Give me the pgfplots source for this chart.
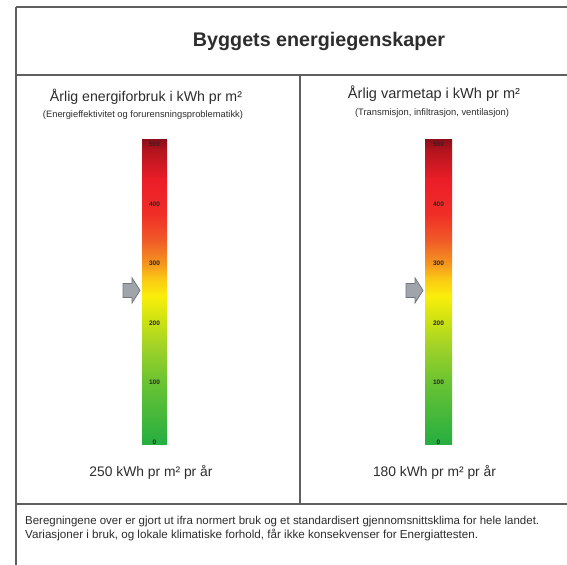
\documentclass[border=0pt]{standalone}
\usepackage{pgfplots}
\pgfplotsset{compat=1.18}
\usepackage{fontspec}
\setmainfont{Liberation Sans}
\usepackage{graphicx}

\definecolor{e0}{RGB}{40,175,65}
\definecolor{e1}{RGB}{105,195,50}
\definecolor{e2}{RGB}{160,210,40}
\definecolor{e3}{RGB}{200,225,20}
\definecolor{e4}{RGB}{250,238,10}
\definecolor{e5}{RGB}{250,200,20}
\definecolor{e6}{RGB}{245,150,30}
\definecolor{e7}{RGB}{240,90,40}
\definecolor{e8}{RGB}{240,45,40}
\definecolor{e9}{RGB}{235,30,40}
\definecolor{e10}{RGB}{180,20,30}
\definecolor{e11}{RGB}{140,15,25}
\definecolor{framecol}{RGB}{95,95,95}
\definecolor{txt}{RGB}{45,45,45}
\definecolor{arrowfill}{RGB}{160,165,172}
\definecolor{arrowdraw}{RGB}{115,118,125}

\pgfdeclareverticalshading{energy}{100bp}{%
 color(0bp)=(e0); color(25bp)=(e0); color(25.5bp)=(e0);
 color(35.2bp)=(e1); color(41.1bp)=(e2); color(45bp)=(e3);
 color(49.4bp)=(e4); color(52.3bp)=(e5); color(54.7bp)=(e6);
 color(58.6bp)=(e7); color(63bp)=(e8); color(68.4bp)=(e9);
 color(73.3bp)=(e10); color(75bp)=(e11); color(100bp)=(e11)}

\pgfdeclareplotmark{barrow}{%
 \pgfpathmoveto{\pgfqpoint{-17bp}{-7bp}}%
 \pgfpathlineto{\pgfqpoint{-8bp}{-7bp}}%
 \pgfpathlineto{\pgfqpoint{-8bp}{-12.5bp}}%
 \pgfpathlineto{\pgfqpoint{0bp}{0bp}}%
 \pgfpathlineto{\pgfqpoint{-8bp}{12.5bp}}%
 \pgfpathlineto{\pgfqpoint{-8bp}{7bp}}%
 \pgfpathlineto{\pgfqpoint{-17bp}{7bp}}%
 \pgfpathclose
 \pgfusepathqfillstroke}

\pgfplotsset{
 energybar/.style={
  scale only axis, height=305bp,
  xmin=0, xmax=1, ymin=-5, ymax=508,
  axis on top,
  axis line style={draw=none},
  xtick=\empty,
  ytick={0,100,200,300,400,500},
  major tick length=0pt,
  /pgf/number format/assume math mode=true,
  yticklabel style={anchor=center, font=\fontsize{6.5bp}{7bp}\selectfont\bfseries, text=black!85, inner sep=0pt},
  clip=false,
 }
}

\begin{document}
\begin{tikzpicture}[x=1bp,y=1bp]
\path[use as bounding box] (0,0) rectangle (567,565);
\fill[white] (0,0) rectangle (567,565);

% frame
\begin{scope}[line width=1.8bp, draw=framecol]
\draw (16,558) -- (567,558);
\draw (16,558) -- (16,0);
\draw (16,490) -- (567,490);
\draw (300,490) -- (300,61);
\draw (16,61) -- (567,61);
\end{scope}

% texts
\begin{scope}[text=txt]
\node[anchor=base, inner sep=0pt] at (319,518) {\resizebox{252bp}{!}{\bfseries Byggets energiegenskaper}};
\node[anchor=base, inner sep=0pt] at (146,463) {\resizebox{192bp}{!}{Årlig energiforbruk i kWh pr m²}};
\node[anchor=base, inner sep=0pt] at (143,447) {\resizebox{200bp}{!}{(Energieffektivitet og forurensningsproblematikk)}};
\node[anchor=base, inner sep=0pt] at (434,466) {\resizebox{172bp}{!}{Årlig varmetap i kWh pr m²}};
\node[anchor=base, inner sep=0pt] at (432,449) {\resizebox{154bp}{!}{(Transmisjon, infiltrasjon, ventilasjon)}};
\node[anchor=base, inner sep=0pt] at (151,88) {\resizebox{123bp}{!}{250 kWh pr m² pr år}};
\node[anchor=base, inner sep=0pt] at (434.5,88) {\resizebox{123bp}{!}{180 kWh pr m² pr år}};
\node[anchor=base west, inner sep=0pt] at (25,40) {\resizebox{514bp}{!}{Beregningene over er gjort ut ifra normert bruk og et standardisert gjennomsnittsklima for hele landet.}};
\node[anchor=base west, inner sep=0pt] at (25,26) {\resizebox{453bp}{!}{Variasjoner i bruk, og lokale klimatiske forhold, får ikke konsekvenser for Energiattesten.}};
\end{scope}

% left bar
\begin{axis}[energybar, at={(142bp,120bp)}, anchor=south west, width=25bp,
  yticklabel style={xshift=12.5bp}]
\addplot[draw=none, shade, shading=energy] coordinates {(0,-5) (1,-5) (1,508) (0,508)} -- cycle;
\addplot[only marks, mark=barrow, mark options={fill=arrowfill, draw=arrowdraw, line width=0.8bp}] coordinates {(-0.08,255)};
\end{axis}

% right bar
\begin{axis}[energybar, at={(425bp,120bp)}, anchor=south west, width=27bp,
  yticklabel style={xshift=13.5bp}]
\addplot[draw=none, shade, shading=energy] coordinates {(0,-5) (1,-5) (1,508) (0,508)} -- cycle;
\addplot[only marks, mark=barrow, mark options={fill=arrowfill, draw=arrowdraw, line width=0.8bp}] coordinates {(-0.074,255)};
\end{axis}
\end{tikzpicture}
\end{document}
